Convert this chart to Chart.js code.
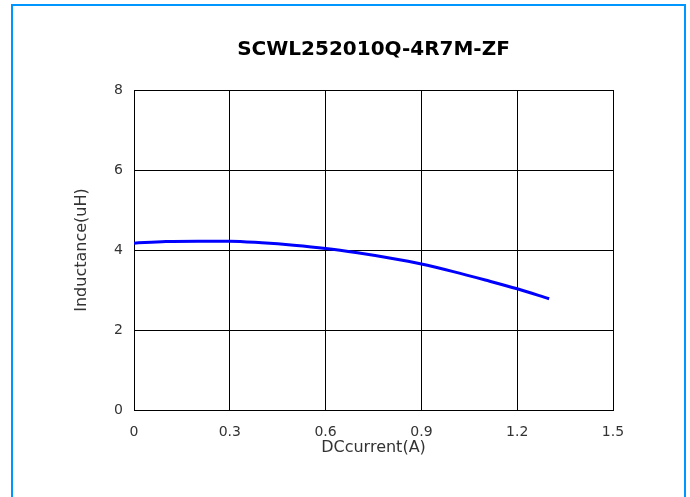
<!DOCTYPE html>
<html>
<head>
<meta charset="utf-8">
<script src="https://cdn.jsdelivr.net/npm/chart.js@4/dist/chart.umd.min.js"></script>
<style>
  html,body{margin:0;padding:0;background:#fff;}
  #wrap{position:relative;width:690px;height:497px;overflow:hidden;}
  #frame{position:absolute;left:11px;top:4px;width:675px;height:600px;box-sizing:border-box;border:2px solid #0096ff;pointer-events:none;}
  canvas{position:absolute;left:0;top:0;}
</style>
</head>
<body>
<div id="wrap">
  <canvas id="chart" width="690" height="497"></canvas>
  <div id="frame"></div>
</div>
<script>
/* ── data ── */
const TITLE       = 'SCWL252010Q-4R7M-ZF';
const currentA    = [0, 0.1, 0.2, 0.3, 0.4, 0.5, 0.6, 0.7, 0.8, 0.9, 1.0, 1.1, 1.2, 1.3];
const inductance  = [4.17, 4.21, 4.22, 4.22, 4.18, 4.12, 4.04, 3.93, 3.80, 3.65, 3.46, 3.25, 3.03, 2.78];
const xTicks      = [0, 0.3, 0.6, 0.9, 1.2, 1.5];
const xTickLabels = ['0', '0.3', '0.6', '0.9', '1.2', '1.5'];
const yTicks      = [0, 2, 4, 6, 8];
const yTickLabels = ['0', '2', '4', '6', '8'];

const FONT = "'DejaVu Sans', 'Liberation Sans', Arial, sans-serif";
const points = currentA.map((x,i)=>({x, y:inductance[i]}));

new Chart(document.getElementById('chart'),{
  type:'line',
  data:{datasets:[{
    data:points, borderColor:'#0000ff', borderWidth:3,
    pointRadius:0, cubicInterpolationMode:'monotone', fill:false
  }]},
  options:{
    responsive:false, animation:false,
    layout:{padding:{left:0, right:77, top:0, bottom:37}},
    plugins:{
      legend:{display:false}, tooltip:{enabled:false},
      title:{display:true, text:TITLE, fullSize:false, color:'#000',
        font:{family:FONT, size:20, weight:'bold', lineHeight:1.2},
        padding:{top:38, bottom:28}}
    },
    scales:{
      x:{type:'linear', min:0, max:1.5,
        afterBuildTicks:s=>{ s.ticks = xTicks.map(v=>({value:v})); },
        afterFit:s=>{ s.height = 50; },
        grid:{color:'#000', lineWidth:1, drawTicks:false},
        border:{color:'#000', width:1},
        ticks:{padding:14, color:'#333', maxRotation:0, autoSkip:false,
          font:{family:FONT, size:14},
          callback:(v,i)=>xTickLabels[i]},
        title:{display:true, text:'DCcurrent(A)', color:'#333',
          font:{family:FONT, size:16, lineHeight:1.2}, padding:{top:0, bottom:3}}
      },
      y:{type:'linear', min:0, max:8,
        afterBuildTicks:s=>{ s.ticks = yTicks.map(v=>({value:v})); },
        afterFit:s=>{ s.width = 134; },
        grid:{color:'#000', lineWidth:1, drawTicks:false},
        border:{color:'#000', width:1},
        ticks:{padding:11, color:'#333',
          font:{family:FONT, size:14},
          callback:(v,i)=>yTickLabels[i]},
        title:{display:true, text:'Inductance(uH)', color:'#333',
          font:{family:FONT, size:16, lineHeight:1.2}, padding:{top:72, bottom:0}}
      }
    }
  }
});
</script>
</body>
</html>
